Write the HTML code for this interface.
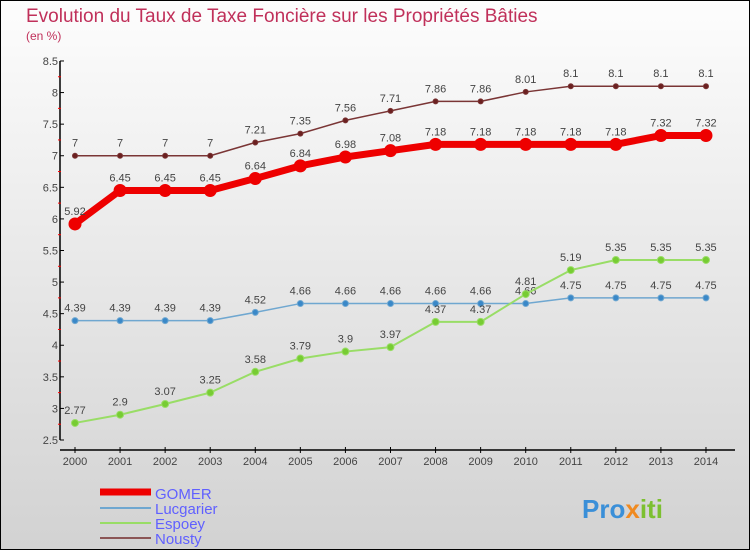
<!DOCTYPE html>
<html><head><meta charset="utf-8"><style>
body{margin:0}
svg{display:block;font-family:"Liberation Sans",sans-serif}
</style></head><body>
<svg id="c" width="750" height="550">
<defs><linearGradient id="bg" x1="0" y1="0" x2="0" y2="1"><stop offset="0" stop-color="#fdfdfd"/><stop offset="1" stop-color="#d2d2d2"/></linearGradient></defs>
<rect x="0.5" y="0.5" width="749" height="549" fill="url(#bg)" stroke="#000"/>
<text x="26" y="22" font-size="19" fill="#c0305a">Evolution du Taux de Taxe Foncière sur les Propriétés Bâties</text>
<text x="26" y="40" font-size="12" fill="#c0305a">(en %)</text>
<g id="axes"></g><g id="series"></g>
<g>
<line x1="100" y1="492" x2="151" y2="492" stroke="#e00" stroke-width="7"/>
<text x="155" y="499" font-size="15" fill="#6060ff">GOMER</text>
<line x1="100" y1="508" x2="151" y2="508" stroke="#6fa7d0" stroke-width="2"/>
<text x="155" y="514" font-size="15" fill="#6060ff">Lucgarier</text>
<line x1="100" y1="523" x2="151" y2="523" stroke="#99dd66" stroke-width="2"/>
<text x="155" y="529" font-size="15" fill="#6060ff">Espoey</text>
<line x1="100" y1="538" x2="151" y2="538" stroke="#8b5555" stroke-width="2"/>
<text x="155" y="544" font-size="15" fill="#6060ff">Nousty</text>
</g>
<g><text x="582" y="518" font-size="26" font-weight="bold" fill="#3a8fd8">Pro<tspan fill="#f08a20">x</tspan><tspan fill="#7cc030">iti</tspan></text></g>
</svg>
<script>
const years=[2000,2001,2002,2003,2004,2005,2006,2007,2008,2009,2010,2011,2012,2013,2014];
const yTicks=[2.5,3,3.5,4,4.5,5,5.5,6,6.5,7,7.5,8,8.5];
const gomer=[5.92,6.45,6.45,6.45,6.64,6.84,6.98,7.08,7.18,7.18,7.18,7.18,7.18,7.32,7.32];
const lucgarier=[4.39,4.39,4.39,4.39,4.52,4.66,4.66,4.66,4.66,4.66,4.66,4.75,4.75,4.75,4.75];
const espoey=[2.77,2.9,3.07,3.25,3.58,3.79,3.9,3.97,4.37,4.37,4.81,5.19,5.35,5.35,5.35];
const nousty=[7,7,7,7,7.21,7.35,7.56,7.71,7.86,7.86,8.01,8.1,8.1,8.1,8.1];
const NS="http://www.w3.org/2000/svg";
const X=i=>75+i*45.07, Y=v=>440-(v-2.5)*63.17;
function mk(t,a,p){const e=document.createElementNS(NS,t);for(const k in a)e.setAttribute(k,a[k]);p.appendChild(e);return e;}
const ax=document.getElementById('axes');
let e=mk('line',{x1:60,y1:Y(8.5),x2:60,y2:440,stroke:'#000','stroke-width':1.5},ax);


e=mk('line',{x1:60,y1:450,x2:735,y2:450,stroke:'#000','stroke-width':1.5},ax);


yTicks.forEach((v,k)=>{
 mk('line',{x1:60,y1:Y(v),x2:64,y2:Y(v),stroke:'#000'},ax);
 if(k<yTicks.length-1) mk('line',{x1:58,y1:Y(v+0.25),x2:61,y2:Y(v+0.25),stroke:'#f00'},ax);
 const t=mk('text',{x:58,y:Y(v)+4,'text-anchor':'end','font-size':11,fill:'#444'},ax);t.textContent=v;
 
 
});
years.forEach((y,i)=>{
 mk('line',{x1:X(i),y1:447,x2:X(i),y2:453,stroke:'#000'},ax);
 const t=mk('text',{x:X(i),y:465,'text-anchor':'middle','font-size':11,fill:'#444'},ax);t.textContent=y;
 
 
});
const sg=document.getElementById('series');
function draw(name,d,col,w,r,fill){
 const g=mk('g',{},sg);
 
 
 const pts=d.map((v,i)=>X(i)+','+Y(v)).join(' ');
 mk('polyline',{points:pts,fill:'none',stroke:col,'stroke-width':w,'stroke-linejoin':'round'},g);
 d.forEach((v,i)=>{
  const c=mk('circle',{cx:X(i),cy:Y(v),r:r,fill:fill,stroke:col,'stroke-width':1},g);
  
  
  const t=mk('text',{x:X(i),y:Y(v)-9,'text-anchor':'middle','font-size':11,fill:'#444'},g);
  t.textContent=String(v);
  
  
 });
}
draw('nousty',nousty,'#7a3535',1.5,2.5,'#6b2020');
draw('lucgarier',lucgarier,'#6fa7d0',1.5,3,'#3a88c8');
draw('espoey',espoey,'#99dd66',2,3.5,'#77cc33');
draw('gomer',gomer,'#e00',7,6,'#e00');
</script>
</body></html>
